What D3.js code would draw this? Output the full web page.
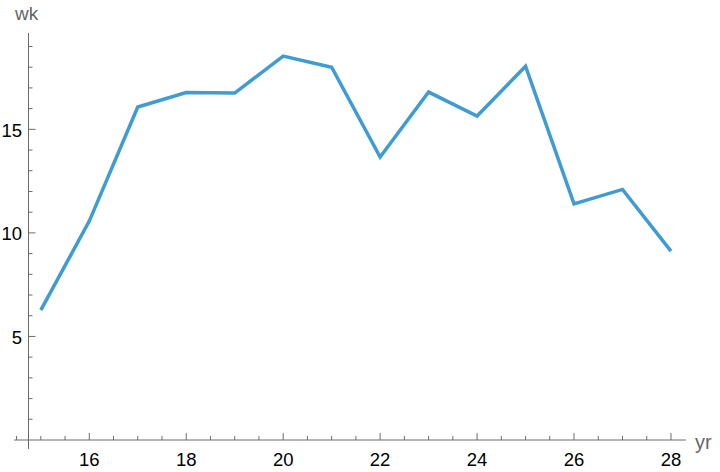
<!DOCTYPE html>
<html>
<head>
<meta charset="utf-8">
<script src="https://cdn.jsdelivr.net/npm/d3@7"></script>
<style>
  body { margin: 0; background: #fff; }
  text { font-family: "Liberation Sans", Arial, sans-serif; }
</style>
</head>
<body>
<div id="chart"></div>
<script>
// Data
const years = [15, 16, 17, 18, 19, 20, 21, 22, 23, 24, 25, 26, 27, 28];
const wk = [6.27, 10.57, 16.08, 16.78, 16.75, 18.54, 18.0, 13.66, 16.8, 15.64, 18.05, 11.4, 12.1, 9.12];
const xTicks = [16, 18, 20, 22, 24, 26, 28];
const yTicks = [5, 10, 15];

const width = 720;
const height = 472;

let svg = d3.select("#chart")
    .append("svg")
    .attr("width", width)
    .attr("height", height);

// Scales
let x = d3.scaleLinear().domain([14.746, 28.31]).range([28.5, 686]);
let y = d3.scaleLinear().domain([0, 19.7]).range([440, 32]);

const axisColor = "#6b6b6b";

// Minor ticks
const xMinor = d3.range(14.5, 28.31, 0.5).filter(d => xTicks.indexOf(d) < 0 && x(d) > 14);
const yMinor = d3.range(1, 20, 1).filter(d => yTicks.indexOf(d) < 0);

let axes = svg.append("g");

// x axis
axes.append("line")
    .attr("x1", 14).attr("x2", 686)
    .attr("y1", y(0)).attr("y2", y(0))
    .attr("stroke", axisColor).attr("stroke-width", 1);
axes.selectAll(".xmaj").data(xTicks).enter().append("line")
    .attr("x1", d => x(d)).attr("x2", d => x(d))
    .attr("y1", y(0)).attr("y2", y(0) - 7)
    .attr("stroke", axisColor);
axes.selectAll(".xmin").data(xMinor).enter().append("line")
    .attr("x1", d => x(d)).attr("x2", d => x(d))
    .attr("y1", y(0)).attr("y2", y(0) - 4)
    .attr("stroke", axisColor);
axes.selectAll(".xlab").data(xTicks).enter().append("text")
    .attr("x", d => x(d)).attr("y", 466)
    .attr("text-anchor", "middle")
    .attr("font-size", 18.5)
    .attr("fill", "#000")
    .text(d => d);

// y axis
axes.append("line")
    .attr("x1", x.range()[0]).attr("x2", x.range()[0])
    .attr("y1", 33).attr("y2", 449)
    .attr("stroke", axisColor).attr("stroke-width", 1);
axes.selectAll(".ymaj").data(yTicks).enter().append("line")
    .attr("x1", x.range()[0]).attr("x2", x.range()[0] + 7)
    .attr("y1", d => y(d)).attr("y2", d => y(d))
    .attr("stroke", axisColor);
axes.selectAll(".ymin").data(yMinor).enter().append("line")
    .attr("x1", x.range()[0]).attr("x2", x.range()[0] + 4)
    .attr("y1", d => y(d)).attr("y2", d => y(d))
    .attr("stroke", axisColor);
axes.selectAll(".ylab").data(yTicks).enter().append("text")
    .attr("x", 22).attr("y", d => y(d) + 7.5)
    .attr("text-anchor", "end")
    .attr("font-size", 18.5)
    .attr("fill", "#000")
    .text(d => d);

// axis labels
svg.append("text")
    .attr("x", 15).attr("y", 20)
    .attr("font-size", 19)
    .attr("fill", "#666")
    .text("wk");
svg.append("text")
    .attr("x", 695).attr("y", 449)
    .attr("font-size", 20)
    .attr("fill", "#666")
    .text("yr");

// Line
let line = d3.line()
    .x((d, i) => x(years[i]))
    .y(d => y(d));

svg.append("path")
    .datum(wk)
    .attr("fill", "none")
    .attr("stroke", "#3f9bd3")
    .attr("stroke-width", 3.5)
    .attr("stroke-linejoin", "miter")
    .attr("d", line);
</script>
</body>
</html>
